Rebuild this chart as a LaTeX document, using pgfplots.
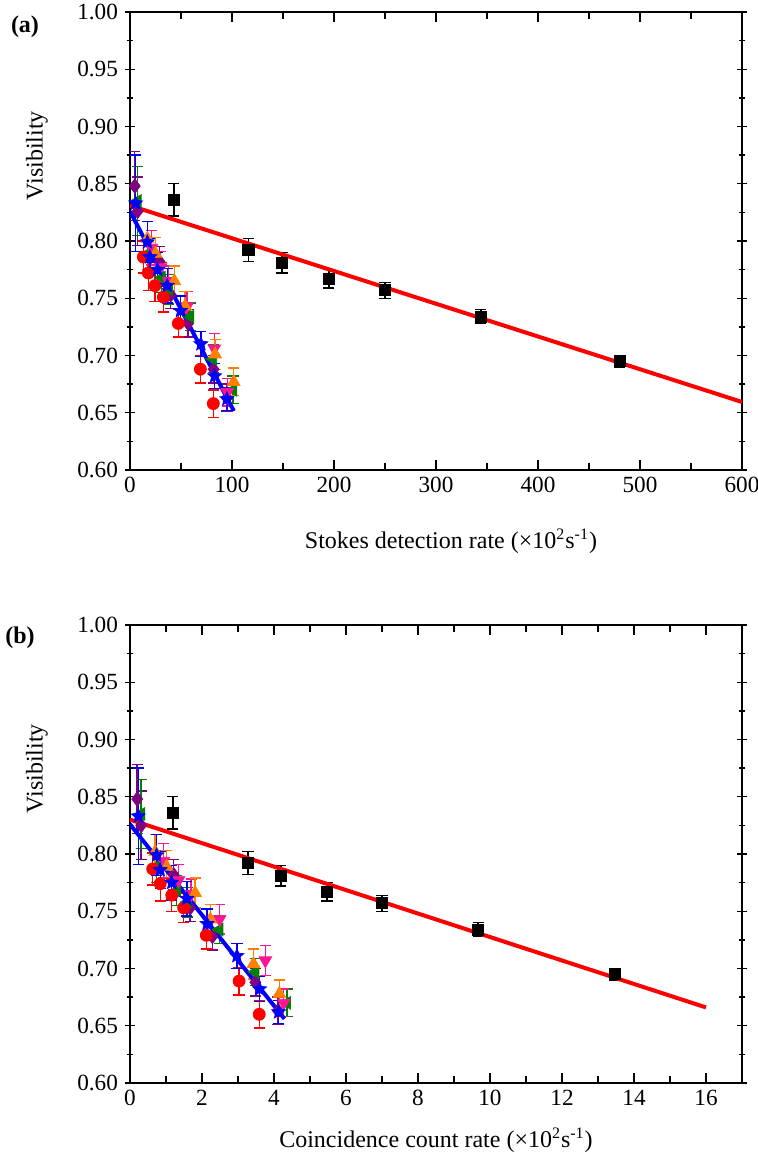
\documentclass[border=0pt]{standalone}
\usepackage{pgfplots}
\pgfplotsset{compat=1.18}
\usepackage{fontspec}
\setmainfont{Liberation Serif}
\usetikzlibrary{plotmarks}

\definecolor{cred}{RGB}{255,0,0}
\definecolor{cgreen}{RGB}{0,128,0}
\definecolor{cblue}{RGB}{0,0,255}
\definecolor{cpurple}{RGB}{128,0,128}
\definecolor{cmag}{RGB}{255,20,147}
\definecolor{corange}{RGB}{255,128,0}

\pgfdeclareplotmark{fstar}{%
 \pgfpathmoveto{\pgfpointpolar{90}{\pgfplotmarksize}}%
 \pgfpathlineto{\pgfpointpolar{126}{0.45\pgfplotmarksize}}%
 \pgfpathlineto{\pgfpointpolar{162}{\pgfplotmarksize}}%
 \pgfpathlineto{\pgfpointpolar{198}{0.45\pgfplotmarksize}}%
 \pgfpathlineto{\pgfpointpolar{234}{\pgfplotmarksize}}%
 \pgfpathlineto{\pgfpointpolar{270}{0.45\pgfplotmarksize}}%
 \pgfpathlineto{\pgfpointpolar{306}{\pgfplotmarksize}}%
 \pgfpathlineto{\pgfpointpolar{342}{0.45\pgfplotmarksize}}%
 \pgfpathlineto{\pgfpointpolar{18}{\pgfplotmarksize}}%
 \pgfpathlineto{\pgfpointpolar{54}{0.45\pgfplotmarksize}}%
 \pgfpathclose\pgfusepathqfillstroke}

\pgfplotsset{
 myaxis/.style={
  scale only axis, width=306pt, height=229pt,
  ymin=0.6, ymax=1.0,
  ytick={0.60,0.65,0.70,0.75,0.80,0.85,0.90,0.95,1.00},
  yticklabel style={/pgf/number format/.cd, fixed, fixed zerofill, precision=2},
  /pgf/number format/assume math mode=true,
  minor tick num=1,
  xtick align=inside, ytick align=center,
  major tick length=5pt, minor tick length=3.3pt,
  tick style={black, line width=0.7pt},
  axis line style={line width=0.8pt},
  font=\fontsize{12}{14}\selectfont,
  ticklabel style={font=\fontsize{11.6}{14}\selectfont},
  ylabel={Visibility},
  ylabel style={at={(axis description cs:-0.152,0.686)}, anchor=center},
 },
 eb/.style={only marks, mark size=2.5pt,
  error bars/y dir=both, error bars/y explicit,
  error bars/error bar style={line width=0.7pt},
  error bars/error mark options={rotate=90, mark size=2.8pt, line width=0.7pt}},
}

\begin{document}
\begin{tikzpicture}
\path[use as bounding box] (-65pt,-343pt) rectangle (313.5pt,235pt);

% ---------------- panel (a)
\begin{axis}[myaxis, at={(0,0)}, anchor=south west,
  xmin=0, xmax=600, xtick={0,100,200,300,400,500,600},
  xlabel={Stokes detection rate (×10\textsuperscript{2}s\textsuperscript{-1})},
  xlabel style={at={(axis description cs:0.5245,-0.155)}, anchor=center}]
\addplot[eb, color=black, mark=square*, mark size=2.8pt] coordinates {
 (43,0.836) +- (0,0.014) (116,0.792) +- (0,0.010) (149,0.781) +- (0,0.009)
 (195,0.767) +- (0,0.008) (250,0.757) +- (0,0.007) (344,0.734) +- (0,0.006)
 (480,0.695) +- (0,0.005)};
\addplot[eb, color=cpurple, mark=diamond*, mark size=3.6pt] coordinates {
 (4.7,0.848) +- (0,0.030) (7.5,0.826) +- (0,0.030) (29,0.782) +- (0,0.013)
 (40,0.753) +- (0,0.012) (57,0.728) +- (0,0.012) (82,0.688) +- (0,0.012)
 (95,0.663) +- (0,0.012)};
\addplot[eb, color=cgreen, mark=triangle*, mark options={rotate=90}, mark size=3.6pt] coordinates {
 (7.5,0.835) +- (0,0.030) (17.5,0.789) +- (0,0.014) (31,0.768) +- (0,0.013)
 (38,0.758) +- (0,0.013) (59,0.734) +- (0,0.012) (81.5,0.697) +- (0,0.012)
 (101,0.670) +- (0,0.012)};
\addplot[eb, color=cmag, mark=triangle*, mark options={rotate=180}, mark size=3.6pt] coordinates {
 (21,0.794) +- (0,0.015) (30,0.777) +- (0,0.014) (38,0.765) +- (0,0.013)
 (56,0.743) +- (0,0.013) (82.7,0.706) +- (0,0.013) (95.5,0.668) +- (0,0.012)};
\addplot[eb, color=corange, mark=triangle*, mark size=3.6pt] coordinates {
 (17,0.802) +- (0,0.015) (25,0.789) +- (0,0.014) (43.5,0.765) +- (0,0.013)
 (54,0.743) +- (0,0.013) (83.5,0.701) +- (0,0.013) (101.7,0.677) +- (0,0.012)};
\addplot[eb, color=cred, mark=*, mark size=3pt] coordinates {
 (13.1,0.786) +- (0,0.014) (18,0.772) +- (0,0.015) (24.5,0.761) +- (0,0.014)
 (32.7,0.751) +- (0,0.013) (47.4,0.728) +- (0,0.012) (69,0.688) +- (0,0.012)
 (81.7,0.658) +- (0,0.012)};
\addplot[eb, color=cblue, mark=fstar, mark size=3.6pt] coordinates {
 (5.5,0.833) +- (0,0.042) (17,0.799) +- (0,0.018) (19.5,0.786) +- (0,0.016)
 (27,0.775) +- (0,0.015) (36.5,0.761) +- (0,0.015) (49.5,0.739) +- (0,0.013)
 (69.5,0.710) +- (0,0.011) (83,0.682) +- (0,0.011) (95,0.662) +- (0,0.010)};
\addplot[cred, line width=2pt] coordinates {(0,0.831) (600,0.6594)};
\addplot[cblue, line width=2pt] coordinates {(0,0.826) (101.8,0.6515)};
\end{axis}

% ---------------- panel (b)
\begin{axis}[myaxis, at={(0,-306.5pt)}, anchor=south west,
  xmin=0, xmax=17, xtick={0,2,4,6,8,10,12,14,16},
  xlabel={Coincidence count rate (×10\textsuperscript{2}s\textsuperscript{-1})},
  xlabel style={at={(axis description cs:0.5,-0.1245)}, anchor=center}]
\addplot[eb, color=black, mark=square*, mark size=2.8pt] coordinates {
 (1.19,0.836) +- (0,0.014) (3.28,0.792) +- (0,0.010) (4.19,0.781) +- (0,0.009)
 (5.47,0.767) +- (0,0.008) (7.0,0.757) +- (0,0.007) (9.67,0.734) +- (0,0.006)
 (13.47,0.695) +- (0,0.005)};
\addplot[eb, color=cpurple, mark=diamond*, mark size=3.6pt] coordinates {
 (0.2,0.848) +- (0,0.030) (0.31,0.825) +- (0,0.030) (1.21,0.782) +- (0,0.013)
 (1.67,0.753) +- (0,0.012) (2.29,0.728) +- (0,0.012) (3.48,0.688) +- (0,0.012)
 (4.11,0.663) +- (0,0.012)};
\addplot[eb, color=cgreen, mark=triangle*, mark options={rotate=90}, mark size=3.6pt] coordinates {
 (0.31,0.835) +- (0,0.030) (0.74,0.789) +- (0,0.014) (1.3,0.768) +- (0,0.013)
 (1.6,0.758) +- (0,0.013) (2.48,0.734) +- (0,0.012) (3.48,0.697) +- (0,0.012)
 (4.36,0.670) +- (0,0.012)};
\addplot[eb, color=cmag, mark=triangle*, mark options={rotate=180}, mark size=3.6pt] coordinates {
 (0.93,0.794) +- (0,0.015) (1.35,0.777) +- (0,0.014) (1.7,0.765) +- (0,0.013)
 (2.49,0.743) +- (0,0.013) (3.76,0.707) +- (0,0.013) (4.27,0.670) +- (0,0.012)};
\addplot[eb, color=corange, mark=triangle*, mark size=3.6pt] coordinates {
 (0.7,0.802) +- (0,0.015) (1.02,0.789) +- (0,0.014) (1.81,0.766) +- (0,0.013)
 (2.23,0.743) +- (0,0.013) (3.43,0.704) +- (0,0.013) (4.15,0.678) +- (0,0.012)};
\addplot[eb, color=cred, mark=*, mark size=3pt] coordinates {
 (0.63,0.787) +- (0,0.014) (0.84,0.774) +- (0,0.015) (1.16,0.764) +- (0,0.014)
 (1.49,0.753) +- (0,0.013) (2.12,0.729) +- (0,0.012) (3.03,0.689) +- (0,0.012)
 (3.59,0.660) +- (0,0.012)};
\addplot[eb, color=cblue, mark=fstar, mark size=3.6pt] coordinates {
 (0.23,0.833) +- (0,0.042) (0.74,0.799) +- (0,0.018) (0.84,0.786) +- (0,0.016)
 (1.16,0.775) +- (0,0.015) (1.58,0.761) +- (0,0.015) (2.14,0.739) +- (0,0.013)
 (2.97,0.711) +- (0,0.011) (3.6,0.682) +- (0,0.011) (4.13,0.662) +- (0,0.010)};
\addplot[cred, line width=2pt] coordinates {(0,0.830) (16,0.666)};
\addplot[cblue, line width=2pt] coordinates {(0,0.826) (4.29,0.656)};
\end{axis}

\node[font=\fontsize{12}{14}\selectfont\bfseries] at (-52.5pt,221.5pt) {(a)};
\node[font=\fontsize{12}{14}\selectfont\bfseries] at (-55pt,-84pt) {(b)};
\end{tikzpicture}
\end{document}
